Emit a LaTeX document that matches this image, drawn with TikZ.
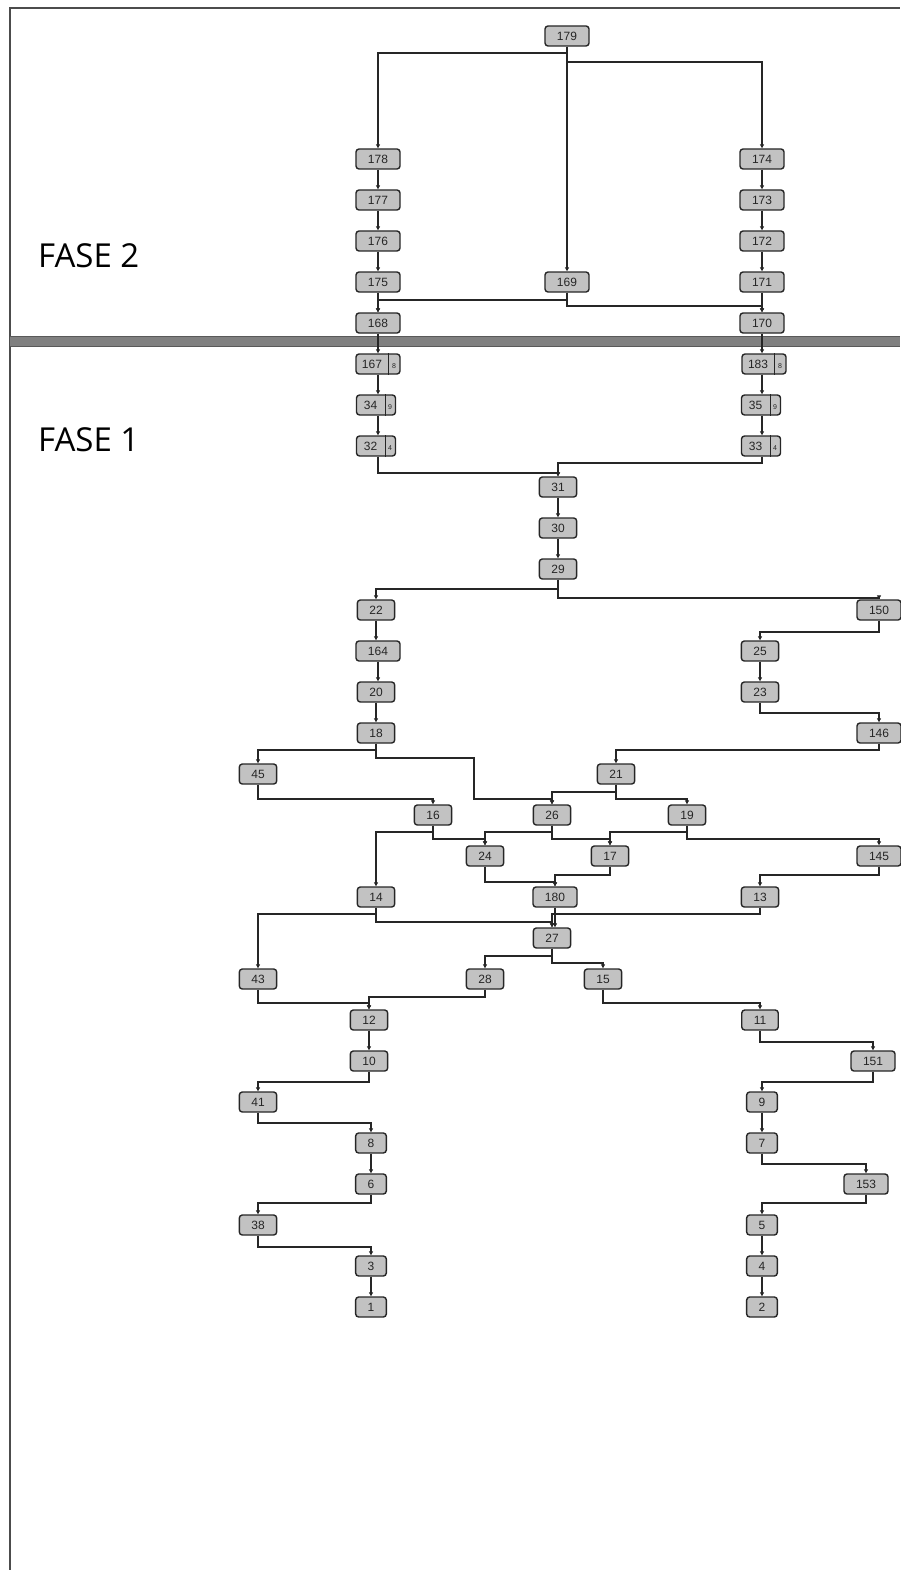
\documentclass[tikz,border=0pt]{standalone}
\usepackage{fontspec}
\setmainfont{Liberation Sans}
\newfontfamily\fasefont{Open Sans}
\usetikzlibrary{arrows.meta}
\tikzset{
 box/.style={draw=black!85, fill=black!24, rounded corners=3pt, line width=1.4pt, minimum height=20pt, inner xsep=12pt, inner ysep=0pt, font=\fontsize{12}{12}\selectfont, text=black!85},
 cbox/.style={box, inner xsep=0pt},
 divider/.style={draw=black!85, line width=1.2pt},
 conn/.style={draw=black!85, line width=1.4pt, -{Triangle[length=4pt,width=4pt]}},
 fase/.style={font=\fasefont\fontsize{33}{33}\selectfont, anchor=base west, inner sep=0pt, text=black},
}
\newcommand\elb[3]{\path (0,#3) coordinate (hh); \draw[conn] (#1.south) -- (#1.south |- hh) -| (#2.north);}
\newcommand\strt[2]{\draw[conn] (#1.south) -- (#1.south |- #2.north);}
% straight link between a and b, at the x of column node c
\newcommand\strtc[3]{\draw[conn] (#1.south |- #2.south) -- (#1.south |- #3.north);}
\newcommand\sidetxt[1]{{\fontsize{7}{7}\selectfont #1}}
\begin{document}
\begin{tikzpicture}[x=1pt,y=-1pt]
\useasboundingbox (0,0) rectangle (900,1570);
% frame and separator
\draw[line width=2pt, black!70] (10,1570) -- (10,8) -- (900,8);
\fill[black!50] (10,336) rectangle (900,346);
\draw[black!65, line width=0.8pt] (10,336) -- (900,336) (10,346) -- (900,346);
\node[fase] (f2) at (38,267) {FASE 2};
\node[fase] (f1) at (38,451) {FASE 1};
% ---- FASE 2 nodes
\node[box] (n179) at (567,36) {179};
\node[box] (n178) at (378,159) {178};
\node[box] (n177) at (378,200) {177};
\node[box] (n176) at (378,241) {176};
\node[box] (n175) at (378,282) {175};
\node[box] (n168) at (378,323) {168};
\node[box] (n169) at (567,282) {169};
\node[box] (n174) at (762,159) {174};
\node[box] (n173) at (762,200) {173};
\node[box] (n172) at (762,241) {172};
\node[box] (n171) at (762,282) {171};
\node[box] (n170) at (762,323) {170};
% ---- FASE 1 compound nodes (number | side value)
\node[cbox] (n167) at (378,364) {\makebox[32pt]{167}\makebox[12pt]{\sidetxt{8}}};
\draw[divider] ([xshift=-12pt]n167.north east) -- ([xshift=-12pt]n167.south east);
\node[cbox] (n34) at (376,405) {\makebox[28pt]{34}\makebox[11pt]{\sidetxt{9}}};
\draw[divider] ([xshift=-11pt]n34.north east) -- ([xshift=-11pt]n34.south east);
\node[cbox] (n32) at (376,446) {\makebox[28pt]{32}\makebox[11pt]{\sidetxt{4}}};
\draw[divider] ([xshift=-11pt]n32.north east) -- ([xshift=-11pt]n32.south east);
\node[cbox] (n183) at (764,364) {\makebox[32pt]{183}\makebox[12pt]{\sidetxt{8}}};
\draw[divider] ([xshift=-12pt]n183.north east) -- ([xshift=-12pt]n183.south east);
\node[cbox] (n35) at (761,405) {\makebox[28pt]{35}\makebox[11pt]{\sidetxt{9}}};
\draw[divider] ([xshift=-11pt]n35.north east) -- ([xshift=-11pt]n35.south east);
\node[cbox] (n33) at (761,446) {\makebox[28pt]{33}\makebox[11pt]{\sidetxt{4}}};
\draw[divider] ([xshift=-11pt]n33.north east) -- ([xshift=-11pt]n33.south east);
% ---- FASE 1 nodes
\node[box] (n31) at (558,487) {31};
\node[box] (n30) at (558,528) {30};
\node[box] (n29) at (558,569) {29};
\node[box] (n22) at (376,610) {22};
\node[box] (n164) at (378,651) {164};
\node[box] (n20) at (376,692) {20};
\node[box] (n18) at (376,733) {18};
\node[box] (n150) at (879,610) {150};
\node[box] (n25) at (760,651) {25};
\node[box] (n23) at (760,692) {23};
\node[box] (n146) at (879,733) {146};
\node[box] (n45) at (258,774) {45};
\node[box] (n21) at (616,774) {21};
\node[box] (n16) at (433,815) {16};
\node[box] (n26) at (552,815) {26};
\node[box] (n19) at (687,815) {19};
\node[box] (n24) at (485,856) {24};
\node[box] (n17) at (610,856) {17};
\node[box] (n145) at (879,856) {145};
\node[box] (n14) at (376,897) {14};
\node[box] (n180) at (555,897) {180};
\node[box] (n13) at (760,897) {13};
\node[box] (n27) at (552,938) {27};
\node[box] (n43) at (258,979) {43};
\node[box] (n28) at (485,979) {28};
\node[box] (n15) at (603,979) {15};
\node[box] (n12) at (369,1020) {12};
\node[box] (n11) at (760,1020) {11};
\node[box] (n10) at (369,1061) {10};
\node[box] (n151) at (873,1061) {151};
\node[box] (n41) at (258,1102) {41};
\node[box] (n9) at (762,1102) {9};
\node[box] (n8) at (371,1143) {8};
\node[box] (n7) at (762,1143) {7};
\node[box] (n6) at (371,1184) {6};
\node[box] (n153) at (866,1184) {153};
\node[box] (n38) at (258,1225) {38};
\node[box] (n5) at (762,1225) {5};
\node[box] (n3) at (371,1266) {3};
\node[box] (n4) at (762,1266) {4};
\node[box] (n1) at (371,1307) {1};
\node[box] (n2) at (762,1307) {2};
% ---- connectors FASE 2
\elb{n179}{n178}{53}
\strt{n179}{n169}
\elb{n179}{n174}{62}
\strt{n178}{n177} \strt{n177}{n176} \strt{n176}{n175} \strt{n175}{n168}
\strt{n174}{n173} \strt{n173}{n172} \strt{n172}{n171} \strt{n171}{n170}
\elb{n169}{n168}{300}
\elb{n169}{n170}{306}
% ---- connectors FASE 1
\strt{n168}{n167} \strtc{n168}{n167}{n34} \strtc{n168}{n34}{n32}
\strt{n170}{n183} \strtc{n170}{n183}{n35} \strtc{n170}{n35}{n33}
\path (0,473) coordinate (hA);
\draw[conn] (n168.south |- n32.south) -- (n168.south |- hA) -| (n31.north);
\path (0,463) coordinate (hB);
\draw[conn] (n170.south |- n33.south) -- (n170.south |- hB) -| (n31.north);
\strt{n31}{n30} \strt{n30}{n29}
\elb{n29}{n22}{589}
\elb{n29}{n150}{598}
\strt{n22}{n164} \strt{n164}{n20} \strt{n20}{n18}
\elb{n150}{n25}{632}
\strt{n25}{n23}
\elb{n23}{n146}{713}
\elb{n18}{n45}{750}
\path (474,758) coordinate (j1); \path (0,799) coordinate (j2);
\draw[conn] (n18.south) -- (n18.south |- j1) -- (j1) -- (j1 |- j2) -| (n26.north);
\elb{n146}{n21}{750}
\elb{n45}{n16}{799}
\elb{n21}{n26}{792}
\elb{n21}{n19}{799}
\elb{n16}{n14}{832}
\elb{n16}{n24}{839}
\elb{n26}{n24}{832}
\elb{n26}{n17}{839}
\elb{n19}{n17}{832}
\elb{n19}{n145}{839}
\elb{n24}{n180}{882}
\elb{n17}{n180}{875}
\elb{n145}{n13}{875}
\elb{n14}{n43}{914}
\elb{n14}{n27}{922}
\strt{n180}{n27}
\elb{n13}{n27}{914}
\elb{n27}{n28}{956}
\elb{n27}{n15}{963}
\elb{n43}{n12}{1003}
\elb{n28}{n12}{997}
\elb{n15}{n11}{1003}
\strt{n12}{n10}
\elb{n10}{n41}{1082}
\elb{n41}{n8}{1123}
\strt{n8}{n6}
\elb{n6}{n38}{1203}
\elb{n38}{n3}{1247}
\strt{n3}{n1}
\elb{n11}{n151}{1042}
\elb{n151}{n9}{1082}
\strt{n9}{n7}
\elb{n7}{n153}{1164}
\elb{n153}{n5}{1203}
\strt{n5}{n4} \strt{n4}{n2}
\end{tikzpicture}
\end{document}
